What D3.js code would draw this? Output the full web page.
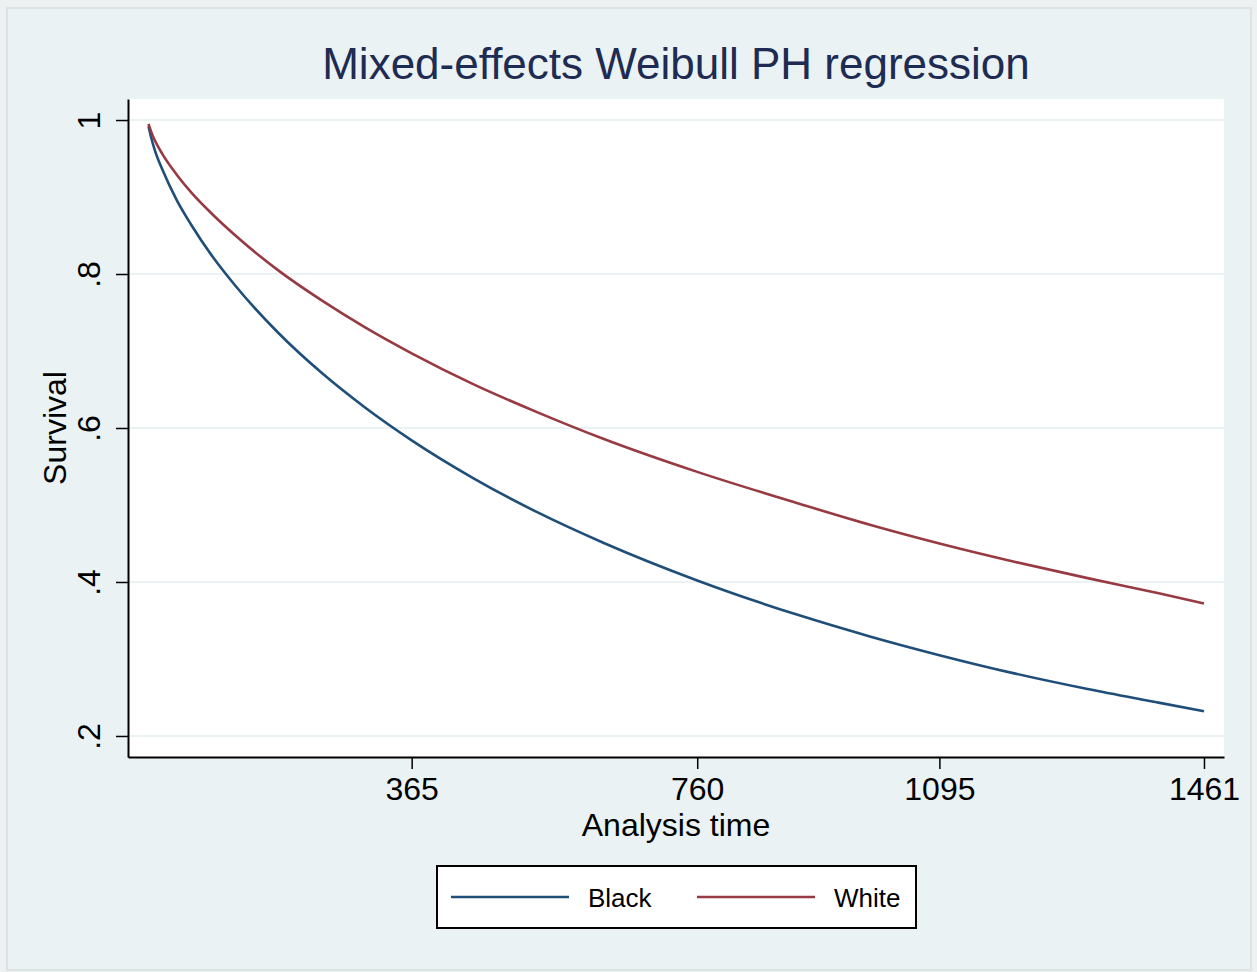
<!DOCTYPE html>
<html>
<head>
<meta charset="utf-8">
<script src="https://cdn.jsdelivr.net/npm/d3@7"></script>
<style>
  body { margin: 0; background: #eef1f2; }
  text { font-family: "Liberation Sans", Arial, Helvetica, sans-serif; }
</style>
</head>
<body>
<div id="chart"></div>
<script>
var svgWidth = 1257;
var svgHeight = 972;

var margin = {
  top: 99,
  right: 33,
  bottom: 215,
  left: 128
};

var width = svgWidth - margin.left - margin.right;
var height = svgHeight - margin.top - margin.bottom;

// analysis time (days) and predicted survival
var times = [1, 5, 10, 20, 40, 60, 90, 120, 180, 240, 300, 365, 450, 540, 630, 760, 900, 1000, 1095, 1200, 1300, 1400, 1461];
var survBlack = [0.992, 0.976, 0.960, 0.936, 0.896, 0.864, 0.822, 0.786, 0.724, 0.672, 0.627, 0.584, 0.535, 0.490, 0.451, 0.402, 0.357, 0.329, 0.305, 0.281, 0.261, 0.243, 0.232];
var survWhite = [0.995, 0.984, 0.973, 0.956, 0.929, 0.906, 0.877, 0.851, 0.805, 0.766, 0.731, 0.697, 0.657, 0.620, 0.586, 0.543, 0.502, 0.474, 0.450, 0.426, 0.405, 0.385, 0.372];

var xTicks = [365, 760, 1095, 1461];
var yTicks = [0.2, 0.4, 0.6, 0.8, 1];
var yTickLabels = [".2", ".4", ".6", ".8", "1"];

var series = [
  { name: "Black", color: "#1f4e79", values: survBlack },
  { name: "White", color: "#973a42", values: survWhite }
];

var svg = d3.select("#chart")
  .append("svg")
  .attr("width", svgWidth)
  .attr("height", svgHeight);

// graph region
svg.append("rect")
  .attr("x", 7)
  .attr("y", 8)
  .attr("width", 1244)
  .attr("height", 962)
  .attr("fill", "#eaf2f3")
  .attr("stroke", "#dde3e5")
  .attr("stroke-width", 2);

// plot region
svg.append("rect")
  .attr("x", margin.left)
  .attr("y", margin.top)
  .attr("width", width)
  .attr("height", height)
  .attr("fill", "#ffffff");

var chartGroup = svg.append("g")
  .attr("transform", `translate(${margin.left}, ${margin.top})`);

var xScale = d3.scaleLinear()
  .domain([-27.4, 1488.7])
  .range([0, width]);

var yScale = d3.scaleLinear()
  .domain([0.1727, 1.0273])
  .range([height, 0]);

// gridlines
chartGroup.selectAll(".grid")
  .data(yTicks)
  .enter()
  .append("line")
  .attr("x1", 0)
  .attr("x2", width)
  .attr("y1", d => yScale(d))
  .attr("y2", d => yScale(d))
  .attr("stroke", "#eaf2f3")
  .attr("stroke-width", 2);

// curves
var line = d3.line()
  .x((d, i) => xScale(times[i]))
  .y(d => yScale(d))
  .curve(d3.curveMonotoneX);

chartGroup.selectAll(".curve")
  .data(series)
  .enter()
  .append("path")
  .attr("fill", "none")
  .attr("stroke", d => d.color)
  .attr("stroke-width", 2.6)
  .attr("d", d => line(d.values));

// x axis
var bottomAxis = d3.axisBottom(xScale)
  .tickValues(xTicks)
  .tickFormat(d3.format("d"))
  .tickSize(12)
  .tickSizeOuter(0)
  .tickPadding(8);

var xAxis = chartGroup.append("g")
  .attr("transform", `translate(0, ${height})`)
  .call(bottomAxis);

xAxis.select(".domain").attr("stroke", "#000").attr("stroke-width", 2);
xAxis.selectAll(".tick line").attr("stroke", "#000").attr("stroke-width", 1.5);
xAxis.selectAll(".tick text")
  .attr("fill", "#000")
  .style("font-size", "32px");

// y axis
var leftAxis = d3.axisLeft(yScale)
  .tickValues(yTicks)
  .tickFormat((d, i) => yTickLabels[i])
  .tickSize(12)
  .tickSizeOuter(0);

var yAxis = chartGroup.append("g")
  .call(leftAxis);

yAxis.select(".domain").attr("stroke", "#000").attr("stroke-width", 2);
yAxis.selectAll(".tick line").attr("stroke", "#000").attr("stroke-width", 1.5);
yAxis.selectAll(".tick text")
  .attr("fill", "#000")
  .attr("x", null)
  .attr("dy", null)
  .attr("transform", "translate(-28, 0) rotate(-90)")
  .style("text-anchor", "middle")
  .style("font-size", "32px");

// title
svg.append("text")
  .attr("x", margin.left + width / 2)
  .attr("y", 79)
  .attr("text-anchor", "middle")
  .attr("fill", "#1e2b52")
  .style("font-size", "44px")
  .text("Mixed-effects Weibull PH regression");

// axis titles
svg.append("text")
  .attr("x", margin.left + width / 2)
  .attr("y", 836)
  .attr("text-anchor", "middle")
  .attr("fill", "#000")
  .style("font-size", "32px")
  .text("Analysis time");

svg.append("text")
  .attr("transform", `translate(66, ${margin.top + height / 2}) rotate(-90)`)
  .attr("text-anchor", "middle")
  .attr("fill", "#000")
  .style("font-size", "32px")
  .text("Survival");

// legend
var legend = svg.append("g")
  .attr("transform", "translate(437, 866)");

legend.append("rect")
  .attr("width", 479)
  .attr("height", 62)
  .attr("fill", "#ffffff")
  .attr("stroke", "#000")
  .attr("stroke-width", 2);

var legendItems = legend.selectAll(".item")
  .data(series)
  .enter()
  .append("g")
  .attr("transform", (d, i) => `translate(${14 + i * 246}, 31)`);

legendItems.append("line")
  .attr("x1", 0)
  .attr("x2", 118)
  .attr("stroke", d => d.color)
  .attr("stroke-width", 2.6);

legendItems.append("text")
  .attr("x", 137)
  .attr("y", 10)
  .attr("fill", "#000")
  .style("font-size", "26px")
  .text(d => d.name);
</script>
</body>
</html>
